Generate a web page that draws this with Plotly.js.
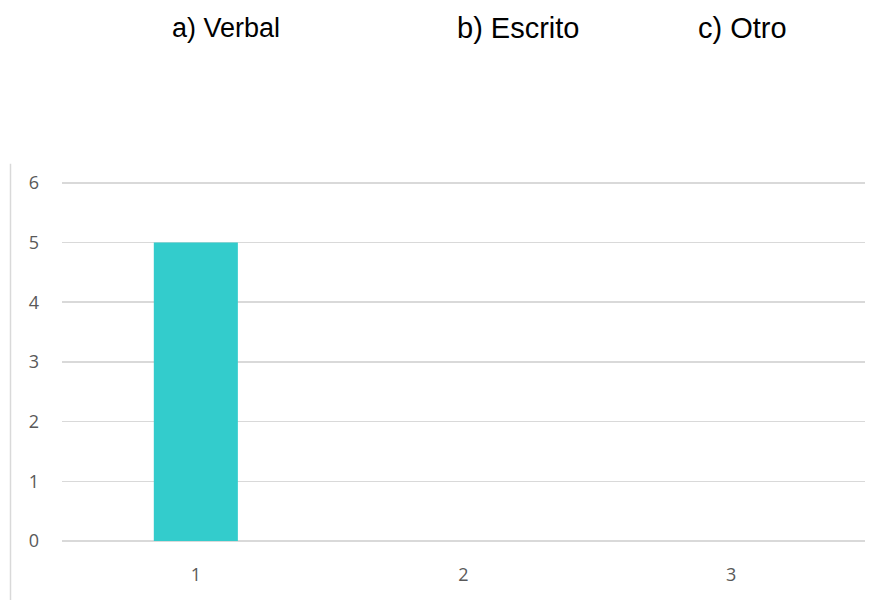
<!DOCTYPE html>
<html>
<head>
<meta charset="utf-8">
<script src="https://cdn.plot.ly/plotly-3.0.1.min.js"></script>
<style>html,body{margin:0;padding:0;background:#fff;}#chart{width:884px;height:600px;}</style>
</head>
<body>
<div id="chart"></div>
<script>
const categories = ['1', '2', '3'];
const values = [5, 0, 0];
const headerLabels = ['a) Verbal', 'b) Escrito', 'c) Otro'];
const headerCenters = [226, 518, 742];
const headerSizes = [27, 29, 29];

const W = 884, H = 600;
const yMax = 6.03;
const yTopPx = 183, yZeroPx = 541;
const mL = 62, mR = 19, mB = H - yZeroPx;
const ph = (yZeroPx - yTopPx) * yMax / 6;
const mT = H - mB - ph;
const pw = W - mL - mR;
const px = x => (x - mL) / pw;
const py = y => (H - mB - y) / ph;

const annotations = headerLabels.map((t, i) => ({
  text: t, xref: 'paper', yref: 'paper', x: px(headerCenters[i]), y: py(28),
  xanchor: 'center', yanchor: 'middle', showarrow: false,
  font: {family: 'Liberation Sans, Arial, sans-serif', size: headerSizes[i], color: '#000'}
}));

Plotly.newPlot('chart', [{
  type: 'bar', x: categories, y: values,
  marker: {color: '#33CCCC'}, hoverinfo: 'none'
}], {
  width: W, height: H,
  margin: {l: mL, r: mR, t: mT, b: mB, pad: 0},
  paper_bgcolor: '#fff', plot_bgcolor: '#fff',
  bargap: 0.686,
  showlegend: false,
  xaxis: {
    type: 'category', showgrid: false, zeroline: false, showline: false,
    ticks: '', ticklabelstandoff: 21,
    tickfont: {family: 'Open Sans, sans-serif', size: 18, color: '#595959'}
  },
  yaxis: {
    range: [0, yMax], tickvals: [0, 1, 2, 3, 4, 5, 6], showgrid: true, gridcolor: '#d9d9d9', gridwidth: 1.5,
    zeroline: true, zerolinecolor: '#d9d9d9', zerolinewidth: 1.5,
    showline: false, ticks: '', ticklabelstandoff: 22,
    tickfont: {family: 'Open Sans, sans-serif', size: 18, color: '#595959'}
  },
  annotations: annotations,
  shapes: [{
    type: 'line', xref: 'paper', yref: 'paper',
    x0: px(10.5), x1: px(10.5), y0: py(164), y1: py(600),
    line: {color: '#d9d9d9', width: 1.5}
  }]
}, {displayModeBar: false, staticPlot: true});
</script>
</body>
</html>
